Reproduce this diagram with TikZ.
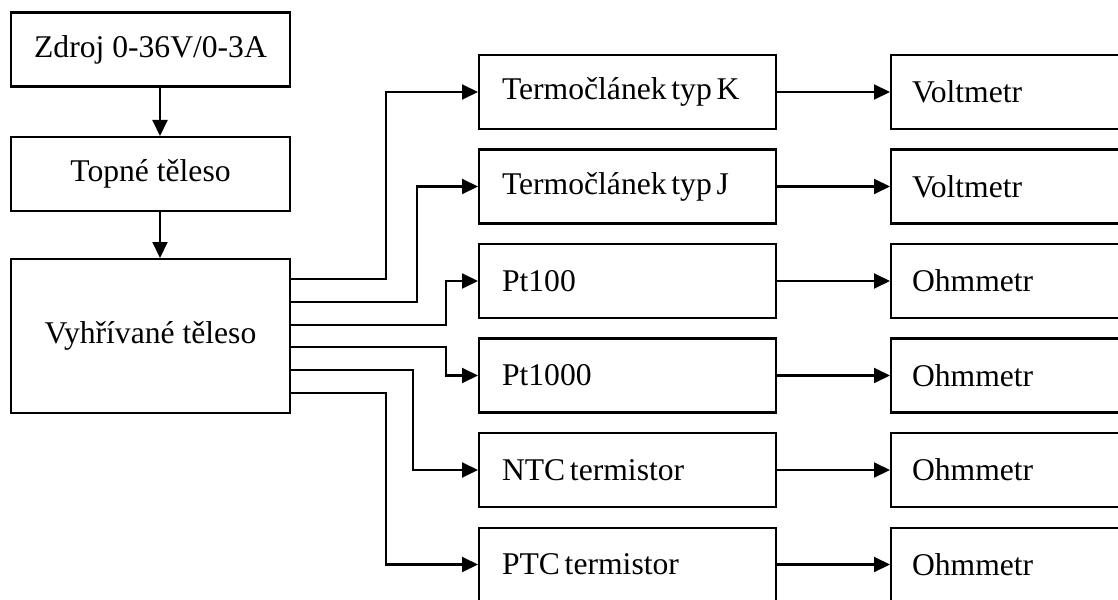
\documentclass[tikz,border=0pt]{standalone}
\usepackage{fontspec}
\setmainfont{Liberation Serif}
\usetikzlibrary{arrows.meta}
\protected\def\uzkamezera{\spaceskip=0.15em\relax}

\begin{document}
\begin{tikzpicture}[x=0.02cm,y=0.02cm]
  \tikzset{blok/.style={draw,line width=1.15pt,minimum width=#1*0.02cm,minimum height=1.48cm,inner sep=0pt,font=\fontsize{18}{20}\selectfont},
    senzor/.style={blok=297,text width=5.02cm,inner xsep=0.46cm,align=left,execute at begin node=\uzkamezera},
    pristroj/.style={blok=239,text width=3.94cm,inner xsep=0.42cm,align=left},
    sipka/.style={draw,line width=1.15pt,-{Triangle[length=0.32cm,width=0.3cm]}}}

  \clip (0,0) rectangle (1118,599);

  % zdroj a ohrev
  \node[blok=279] (zdroj) at (150.5,549.5) {Zdroj 0-36V/0-3A};
  \node[blok=279] (topne) at (150.5,425) {Topné těleso};
  \node[blok=279,minimum height=3.08cm] (vyhr) at (150.5,263) {Vyhřívané těleso};

  % snimace
  \node[senzor] (tcK) at (627.5,507) {Termočlánek typ K};
  \node[senzor] (tcJ) at (627.5,412.5) {Termočlánek typ J};
  \node[senzor] (pt100) at (627.5,318) {Pt100};
  \node[senzor] (pt1000) at (627.5,223.5) {Pt1000};
  \node[senzor] (ntc) at (627.5,129) {NTC termistor};
  \node[senzor] (ptc) at (627.5,34.5) {PTC termistor};

  % meridla
  \node[pristroj] (vK) at (1010.5,507) {Voltmetr};
  \node[pristroj] (vJ) at (1010.5,412.5) {Voltmetr};
  \node[pristroj] (o1) at (1010.5,318) {Ohmmetr};
  \node[pristroj] (o2) at (1010.5,223.5) {Ohmmetr};
  \node[pristroj] (o3) at (1010.5,129) {Ohmmetr};
  \node[pristroj] (o4) at (1010.5,34.5) {Ohmmetr};

  \draw[sipka] ([xshift=0.19cm]zdroj.south) -- ([xshift=0.19cm]topne.north);
  \draw[sipka] ([xshift=0.19cm]topne.south) -- ([xshift=0.19cm]vyhr.north);

  % vetve k snimacum
  \draw[sipka] ([yshift=1.14cm]vyhr.east) -- ++(95,0) |- (tcK.west);
  \draw[sipka] ([yshift=0.68cm]vyhr.east) -- ++(126,0) |- (tcJ.west);
  \draw[sipka] ([yshift=0.22cm]vyhr.east) -- ++(155,0) |- (pt100.west);
  \draw[sipka] ([yshift=-0.22cm]vyhr.east) -- ++(155,0) |- (pt1000.west);
  \draw[sipka] ([yshift=-0.68cm]vyhr.east) -- ++(122,0) |- (ntc.west);
  \draw[sipka] ([yshift=-1.14cm]vyhr.east) -- ++(95,0) |- (ptc.west);

  \draw[sipka] (tcK) -- (vK);
  \draw[sipka] (tcJ) -- (vJ);
  \draw[sipka] (pt100) -- (o1);
  \draw[sipka] (pt1000) -- (o2);
  \draw[sipka] (ntc) -- (o3);
  \draw[sipka] (ptc) -- (o4);
\end{tikzpicture}
\end{document}
